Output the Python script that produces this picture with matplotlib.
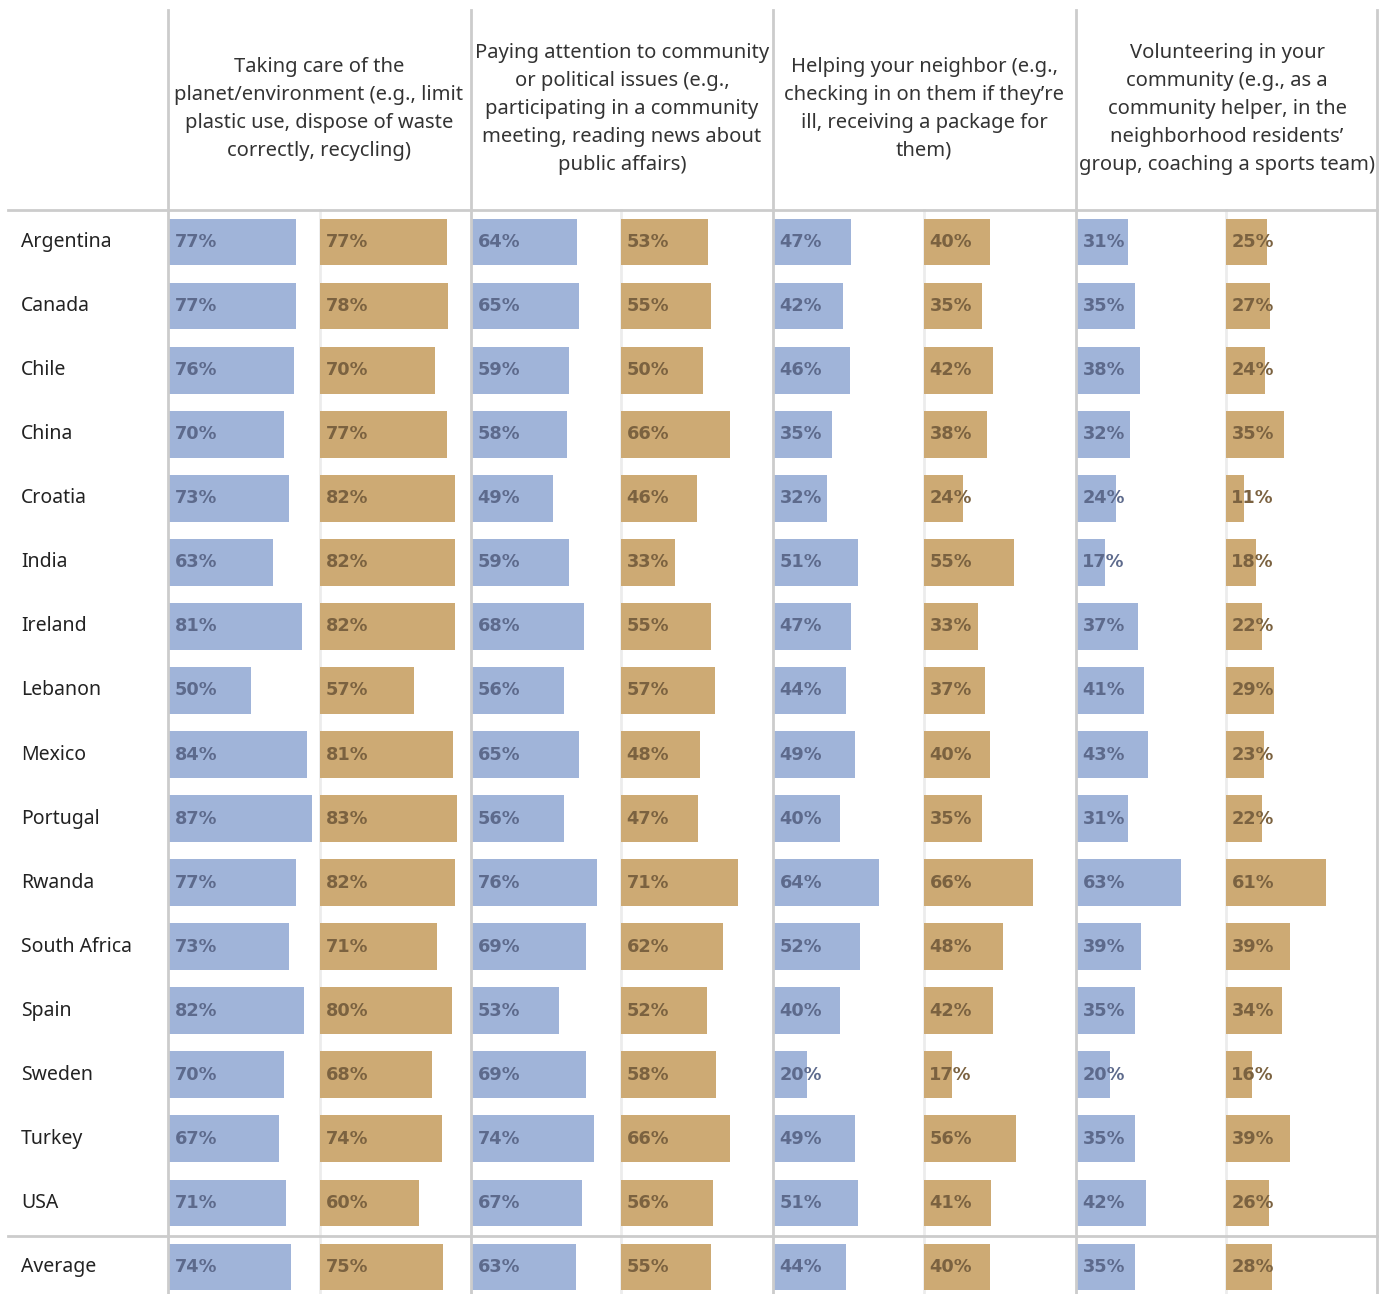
import matplotlib.pyplot as plt
from matplotlib.lines import Line2D

countries = ['Argentina', 'Canada', 'Chile', 'China', 'Croatia', 'India', 'Ireland',
             'Lebanon', 'Mexico', 'Portugal', 'Rwanda', 'South Africa', 'Spain',
             'Sweden', 'Turkey', 'USA', 'Average']

headers = [
    'Taking care of the\nplanet/environment (e.g., limit\nplastic use, dispose of waste\ncorrectly, recycling)',
    'Paying attention to community\nor political issues (e.g.,\nparticipating in a community\nmeeting, reading news about\npublic affairs)',
    'Helping your neighbor (e.g.,\nchecking in on them if they\u2019re\nill, receiving a package for\nthem)',
    'Volunteering in your\ncommunity (e.g., as a\ncommunity helper, in the\nneighborhood residents\u2019\ngroup, coaching a sports team)',
]

blue1 = [77, 77, 76, 70, 73, 63, 81, 50, 84, 87, 77, 73, 82, 70, 67, 71, 74]
tan1 = [77, 78, 70, 77, 82, 82, 82, 57, 81, 83, 82, 71, 80, 68, 74, 60, 75]
blue2 = [64, 65, 59, 58, 49, 59, 68, 56, 65, 56, 76, 69, 53, 69, 74, 67, 63]
tan2 = [53, 55, 50, 66, 46, 33, 55, 57, 48, 47, 71, 62, 52, 58, 66, 56, 55]
blue3 = [47, 42, 46, 35, 32, 51, 47, 44, 49, 40, 64, 52, 40, 20, 49, 51, 44]
tan3 = [40, 35, 42, 38, 24, 55, 33, 37, 40, 35, 66, 48, 42, 17, 56, 41, 40]
blue4 = [31, 35, 38, 32, 24, 17, 37, 41, 43, 31, 63, 39, 35, 20, 35, 42, 35]
tan4 = [25, 27, 24, 35, 11, 18, 22, 29, 23, 22, 61, 39, 34, 16, 39, 26, 28]

series = [(blue1, tan1), (blue2, tan2), (blue3, tan3), (blue4, tan4)]

W, H = 1381, 1294
fig = plt.figure(figsize=(W / 100, H / 100), dpi=100)

BLUE, TAN = '#a0b4d9', '#cdaa74'
BLUE_TXT, TAN_TXT = '#5d6a8c', '#7b6240'
GRID = '#cccccc'
FAINT = '#ececec'

px_per_pct = 1.645
group_left = [168, 471, 773, 1076]
sub_left = [[168, 319], [471, 620], [773, 923], [1076, 1225]]
sub_w = 151
top_px = 210
n = len(countries)
pitch = 64.06

def fx(x):
    return x / W

def fy(y):
    return 1 - y / H

# grid lines (faint ones sit behind the bars)
line_kw = dict(color=GRID, lw=2, transform=fig.transFigure)
for gx in group_left + [1377]:
    fig.add_artist(Line2D([fx(gx), fx(gx)], [fy(10), fy(H)], **line_kw))
for sl in sub_left:
    fig.add_artist(Line2D([fx(sl[1] + 1), fx(sl[1] + 1)], [fy(top_px), fy(H)],
                          color=FAINT, lw=2, transform=fig.transFigure, zorder=-1))
for hy in [top_px, 1236]:
    fig.add_artist(Line2D([fx(8), fx(1377)], [fy(hy), fy(hy)], **line_kw))

# headers
for g, txt in enumerate(headers):
    cx = group_left[g] + 151
    fig.text(fx(cx), fy(109), txt, ha='center', va='center', fontsize=14.5,
             color='#333333', family='Noto Sans', linespacing=1.52)

# bars
y0_frac = fy(H)
h_frac = (H - top_px) / H
ylo = -0.5 + (H - top_px) / pitch
for g, (b, t) in enumerate(series):
    for s, (vals, col, tcol) in enumerate([(b, BLUE, BLUE_TXT), (t, TAN, TAN_TXT)]):
        ax = fig.add_axes([fx(sub_left[g][s]), y0_frac, sub_w / W, h_frac])
        ax.set_xlim(-0.6, (sub_w - 1) / px_per_pct)
        ax.set_ylim(ylo, -0.5)
        ax.axis('off')
        ypos = list(range(n))
        ax.barh(ypos, vals, height=0.73, color=col)
        for yi, v in zip(ypos, vals):
            ax.text(3.3, yi, f'{v}%', ha='left', va='center', fontsize=12.8,
                    fontweight='bold', family='DejaVu Sans', color=tcol)

# country labels
lab_ax = fig.add_axes([fx(8), y0_frac, 160 / W, h_frac])
lab_ax.set_xlim(0, 1)
lab_ax.set_ylim(ylo, -0.5)
lab_ax.axis('off')
for i, c in enumerate(countries):
    lab_ax.text(0.08, i, c, ha='left', va='center', fontsize=14,
                family='Noto Sans', color='#222222')

plt.savefig('out.png', dpi=100)
